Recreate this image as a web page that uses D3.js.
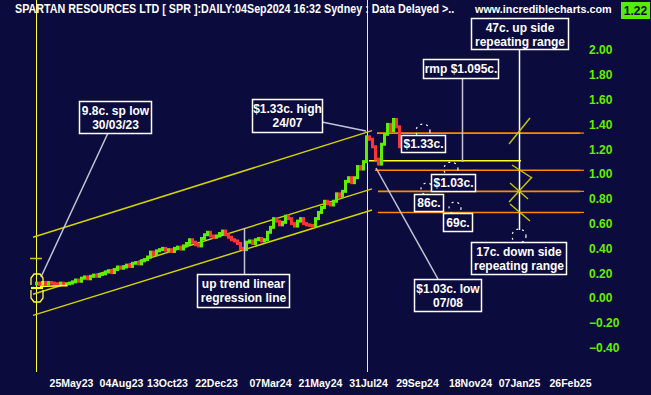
<!DOCTYPE html>
<html><head><meta charset="utf-8">
<script src="https://cdn.jsdelivr.net/npm/d3@7/dist/d3.min.js"></script>
<style>
html,body{margin:0;padding:0;background:#0b0b3d;overflow:hidden}
svg{display:block}
</style></head>
<body>
<svg id="chart" width="651" height="395"></svg>
<script>
// ---------- data ----------
const title = "SPARTAN RESOURCES LTD [ SPR ]:DAILY:04Sep2024 16:32 Sydney : Data Delayed >..";
const site = "www.incrediblecharts.com";
const lastPrice = "1.22";
const barStep = 3;            // trading days between drawn bars
const firstOpen = 0.115;
const closes = [
 0.12,0.11,0.125,0.115,0.125,0.12,0.115,0.11,0.12,0.105,0.115,0.12,
 0.13,0.145,0.135,0.16,0.17,0.155,0.175,0.185,0.175,0.19,0.195,0.21,
 0.22,0.205,0.23,0.25,0.24,0.25,0.265,0.255,0.28,0.285,0.275,0.30,
 0.31,0.33,0.37,0.35,0.38,0.39,0.40,0.385,0.39,0.375,0.40,0.41,
 0.395,0.42,0.44,0.47,0.45,0.43,0.42,0.48,0.51,0.53,0.50,0.49,
 0.50,0.52,0.54,0.51,0.49,0.47,0.46,0.44,0.40,0.39,0.45,0.46,
 0.44,0.47,0.48,0.46,0.47,0.53,0.57,0.64,0.62,0.59,0.61,0.66,
 0.64,0.60,0.58,0.62,0.64,0.60,0.59,0.585,0.58,0.64,0.69,0.73,
 0.78,0.76,0.75,0.78,0.84,0.82,0.86,0.94,0.97,0.93,0.97,1.06,
 1.04,1.10,1.30,1.28,1.22,1.12,1.08,1.24,1.32,1.40,1.35,1.44,
 1.38,1.22
];
const yTicks = [2.00,1.80,1.60,1.40,1.20,1.00,0.80,0.60,0.40,0.20,0.00,-0.20,-0.40];
const dateLabels = ["25May23","04Aug23","13Oct23","22Dec23","07Mar24","21May24","31Jul24","29Sep24","18Nov24","07Jan25","26Feb25"];
const dateIdx = [35,85,131,180,234,284,332,381,434,483,534];
const levels = [1.33,1.03,0.86,0.69];
const levelStartIdx = [341,339,342,342];
const rmpValue = 1.095;
const upperChannel = [[-3,0.49],[336,1.35]];
const middleChannel = [[-3,0.03],[336,0.88]];
const lowerChannel = [[-3,-0.14],[336,0.71]];
const markerIdx = [0,331];   // vertical markers 30/03/23 and 24/07/24

// ---------- scales ----------
const svg = d3.select("#chart");
const W = 651, H = 395;
const x = d3.scaleLinear().domain([0,540]).range([36,576]);
const y = d3.scaleLinear().domain([-0.40,2.00]).range([347.6,50]);
const FONT = "'Liberation Sans', Arial, sans-serif";

svg.append("rect").attr("width",W).attr("height",H).attr("fill","#0b0b3d");

// ---------- vertical markers ----------
svg.selectAll("line.vm").data(markerIdx).join("line")
  .attr("x1",d=>Math.round(x(d))+0.5).attr("x2",d=>Math.round(x(d))+0.5)
  .attr("y1",0).attr("y2",372).attr("stroke","#ffff40").attr("stroke-width",1);

// ---------- regression channel ----------
const lineGen = d3.line().x(d=>x(d[0])).y(d=>y(d[1]));
[upperChannel,middleChannel,lowerChannel].forEach(c=>{
  svg.append("path").attr("d",lineGen(c)).attr("fill","none")
    .attr("stroke","#d2d200").attr("stroke-width",1.5);
});

// ---------- horizontal levels ----------
svg.selectAll("line.lvl").data(levels).join("line")
  .attr("x1",(d,i)=>x(levelStartIdx[i])).attr("x2",580)
  .attr("y1",d=>y(d)).attr("y2",d=>y(d))
  .attr("stroke","#ff8a00").attr("stroke-width",1.6);
svg.selectAll("line.lvt").data(levels).join("line")
  .attr("x1",580).attr("x2",584)
  .attr("y1",d=>y(d)).attr("y2",d=>y(d))
  .attr("stroke","#ff8a00").attr("stroke-width",1.2);
svg.append("line").attr("x1",x(333)).attr("x2",x(485))
  .attr("y1",y(rmpValue)-1.5).attr("y2",y(rmpValue)-1.5)
  .attr("stroke","#ffff20").attr("stroke-width",1.6);

// ---------- candles ----------
const bars = closes.map((c,i)=>({idx:i*barStep, open: i===0?firstOpen:closes[i-1], close:c}));
svg.selectAll("rect.bar").data(bars).join("rect")
  .attr("x",d=>Math.round(x(d.idx))-1)
  .attr("width",3)
  .attr("y",d=>y(Math.max(d.open,d.close))-1.5)
  .attr("height",d=>Math.max(3,Math.abs(y(d.open)-y(d.close))+3))
  .attr("fill",d=>d.close>=d.open?"#5cf000":"#ff3535");

// ---------- annotation leader lines ----------
const leaders = [
  [[108,133],[41,277]],
  [[322,122],[366,131]],
  [[244.5,228],[244.5,274]],
  [[462.5,78],[462.5,162]],
  [[519.5,49],[519.5,230]],
  [[376,168],[438,279]]
];
leaders.forEach(l=>{
  svg.append("line").attr("x1",l[0][0]).attr("y1",l[0][1]).attr("x2",l[1][0]).attr("y2",l[1][1])
    .attr("stroke",l[0][0]===519.5?"#ffffff":"#c4c4d4").attr("stroke-width",1.5);
});

// ---------- yellow range marks ----------
const marks = [
  [[509,144],[530,118]],
  [[512,165],[532,178]],
  [[532,177],[509,202]],
  [[510,183],[528,199]],
  [[510,204],[530,221]]
];
marks.forEach(m=>{
  svg.append("line").attr("x1",m[0][0]).attr("y1",m[0][1]).attr("x2",m[1][0]).attr("y2",m[1][1])
    .attr("stroke","#c8c800").attr("stroke-width",1.4);
});

// ---------- left low marker ----------
svg.append("line").attr("x1",30).attr("x2",42).attr("y1",258.5).attr("y2",258.5).attr("stroke","#c8c800").attr("stroke-width",1.5);
svg.append("path").attr("d","M31,285 L31,278 L34,274 L40,274 L43,278 L43,285").attr("fill","none").attr("stroke","#ffff30").attr("stroke-width",1.3);
svg.append("path").attr("d","M31,290 L31,298 L34,302 L40,302 L43,298 L43,290").attr("fill","none").attr("stroke","#ffff30").attr("stroke-width",1.3);
svg.append("line").attr("x1",31).attr("x2",43).attr("y1",288).attr("y2",288).attr("stroke","#ffff30").attr("stroke-width",2.2);
svg.append("line").attr("x1",40).attr("x2",67).attr("y1",286.5).attr("y2",285.5).attr("stroke","#ffff30").attr("stroke-width",1.3);

// ---------- dashed circles ----------
const dashed = [[423,131,7],[451,169,7],[427,189,6],[455,208,6],[519,236,7]];
dashed.forEach(c=>{
  svg.append("circle").attr("cx",c[0]).attr("cy",c[1]).attr("r",c[2])
    .attr("fill","none").attr("stroke","#ffffff").attr("stroke-width",1.2)
    .attr("stroke-dasharray","2,4");
});

// ---------- annotation boxes ----------
const boxes = [
  {x:79,y:101,w:72,h:32,t:["9.8c. sp low","30/03/23"]},
  {x:252,y:99,w:70,h:33,t:["$1.33c. high","24/07"]},
  {x:197,y:274,w:92,h:33,t:["up trend linear","regression line"]},
  {x:401,y:135,w:44,h:17,t:["$1.33c."]},
  {x:431,y:174,w:44,h:17,t:["$1.03c."]},
  {x:414,y:194,w:29,h:17,t:["86c."]},
  {x:443,y:213,w:29,h:18,t:["69c."]},
  {x:423,y:59,w:75,h:19,t:["rmp $1.095c."]},
  {x:471,y:18,w:97,h:31,t:["47c. up side","repeating range"]},
  {x:471,y:242,w:95,h:32,t:["17c. down side","repeating range"]},
  {x:414,y:279,w:67,h:32,t:["$1.03c. low","07/08"]}
];
boxes.forEach(b=>{
  const g = svg.append("g");
  g.append("rect").attr("x",b.x+0.5).attr("y",b.y+0.5).attr("width",b.w).attr("height",b.h)
    .attr("fill","#0b0b3d").attr("stroke","#ffffff").attr("stroke-width",1.5);
  const n = b.t.length;
  b.t.forEach((s,i)=>{
    g.append("text").attr("x",b.x+b.w/2+0.5)
      .attr("y", b.y + (n===1 ? b.h/2+4.5 : (i===0? 13.5 : 28)))
      .attr("text-anchor","middle").attr("fill","#ffffff")
      .attr("font-family",FONT).attr("font-weight","bold").attr("font-size","12px")
      .text(s);
  });
});

// ---------- axes ----------
const yAxis = d3.axisRight(y).tickValues(yTicks).tickFormat(d3.format(".2f")).tickSize(0).tickPadding(9);
const gy = svg.append("g").attr("transform","translate(580,0)").call(yAxis);
gy.select(".domain").remove();
gy.selectAll("text").attr("fill","#66ee00").attr("font-family",FONT).attr("font-weight","bold").attr("font-size","12px");

const xAxis = d3.axisBottom(x).tickValues(dateIdx).tickFormat((d,i)=>dateLabels[i]).tickSize(0).tickPadding(8);
const gx = svg.append("g").attr("transform","translate(0,372)").call(xAxis);
gx.select(".domain").remove();
gx.selectAll("text").attr("fill","#ffffff").attr("font-family",FONT).attr("font-weight","bold").attr("font-size","10.5px");

// ---------- header (horizontally scaled to fit exact widths) ----------
function fitText(str, x0, yb, width, size){
  const t = svg.append("text").attr("x",0).attr("y",0).attr("fill","#ffffff")
    .attr("font-family",FONT).attr("font-weight","bold").attr("font-size",size+"px").text(str);
  const w = t.node().getComputedTextLength();
  t.attr("transform",`translate(${x0},${yb}) scale(${width/w},1)`);
  return t;
}
fitText(title, 15, 13, 440, 12.5);
fitText(site, 475, 12.5, 137, 11.5);
svg.append("rect").attr("x",621).attr("y",2).attr("width",29).attr("height",17).attr("fill","#55ee00");
svg.append("text").attr("x",635.5).attr("y",15).attr("text-anchor","middle").attr("fill","#0b0b3d")
  .attr("font-family",FONT).attr("font-weight","bold").attr("font-size","12px").text(lastPrice);
</script>
</body></html>
